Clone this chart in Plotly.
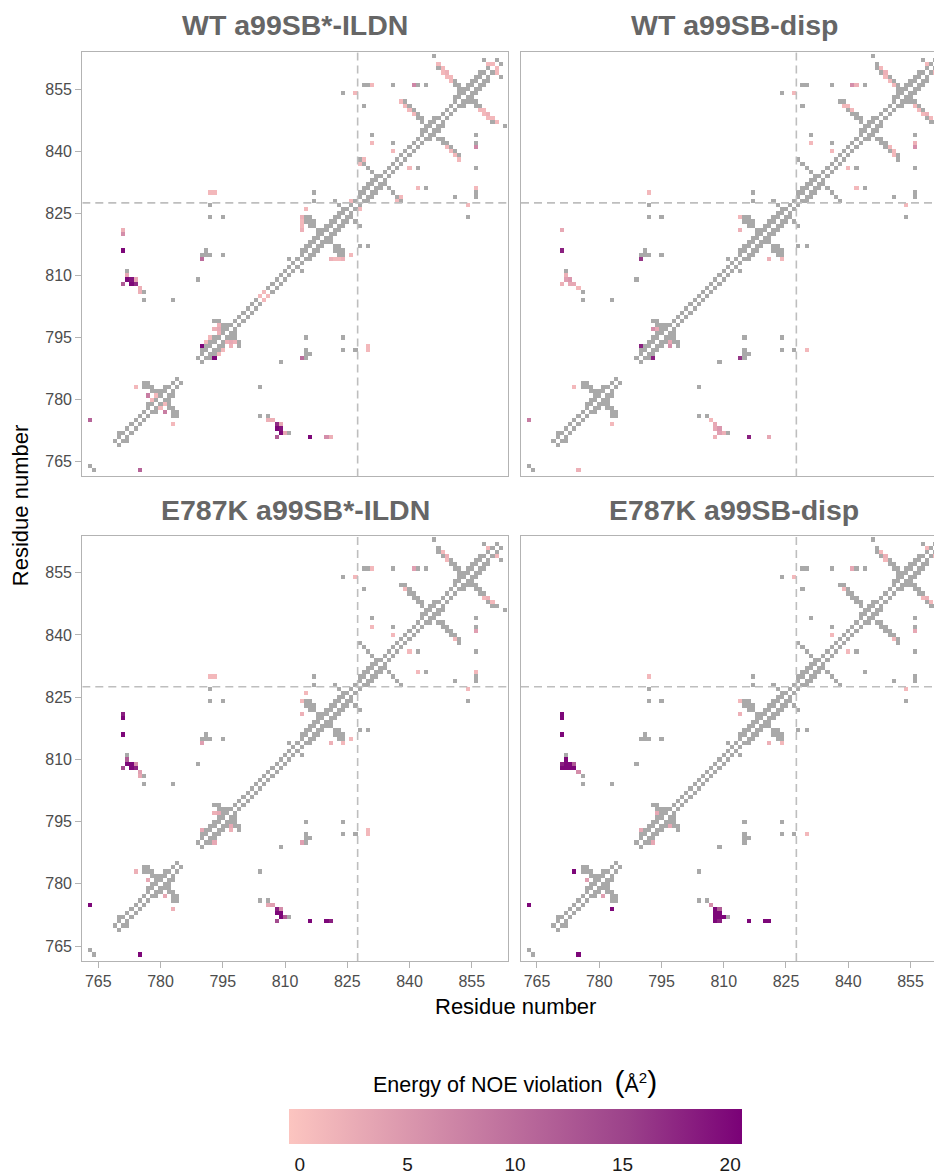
import numpy as np
import plotly.graph_objects as go

# ---------------- data ----------------
RES_MIN, RES_MAX = 760, 866
tick_vals = [765, 780, 795, 810, 825, 840, 855]
panel_titles = ["WT a99SB*-ILDN", "WT a99SB-disp", "E787K a99SB*-ILDN", "E787K a99SB-disp"]
domain_boundary = 827.5

# near-diagonal contact runs: pairs (i, i+offset) for i in [start, end]
run_offset = [1, 1, 1, 2, 2, 2, 2, 2, 2]
run_start = [763, 769, 789, 777, 790, 814, 828, 843, 851]
run_end = [763, 784, 861, 781, 796, 823, 832, 846, 857]

# anti-diagonal (hairpin-like) contact runs: pairs (a0-k, b0+k), k < n
hp_a0 = [779, 779, 795, 795, 818, 817, 824, 832, 844, 843, 853, 852, 859]
hp_b0 = [781, 782, 797, 798, 821, 823, 826, 834, 846, 848, 854, 856, 861]
hp_n = [4, 3, 3, 2, 4, 2, 3, 5, 7, 5, 7, 5, 2]

# isolated long-range contacts (a < b)
extra_a = [776, 776, 783, 776, 772, 789, 792, 795, 792, 790, 791, 792, 791, 795,
           817, 817, 824, 829, 829, 830, 836, 844, 831, 846, 811,
           847, 842, 836, 816, 815, 770]
extra_b = [783, 804, 804, 806, 811, 809, 824, 824, 827, 815, 815, 815, 816, 815,
           828, 830, 854, 851, 856, 856, 856, 856, 844, 863, 814,
           861, 856, 842, 822, 823, 772]

# NOE violation energies (A^2) per panel: (residue a, residue b, energy), drawn on both sides
viol_wt_ildn = [
    (763, 775, 11), (771, 816, 20), (771, 820, 6), (771, 821, 2),
    (771, 808, 12), (772, 809, 20), (773, 809, 19), (773, 808, 20), (774, 808, 17),
    (774, 809, 3), (772, 810, 3), (775, 806, 2), (775, 807, 2),
    (774, 783, 1), (777, 781, 8), (778, 780, 1), (779, 781, 1),
    (790, 793, 20), (793, 797, 2), (794, 796, 2), (794, 797, 3), (794, 798, 2),
    (791, 794, 1), (792, 795, 1), (790, 814, 10), (804, 805, 1), (805, 806, 1),
    (792, 830, 1), (793, 830, 1), (814, 821, 2), (814, 822, 1), (814, 823, 1),
    (814, 824, 2), (815, 826, 1), (827, 854, 1), (831, 856, 1), (841, 856, 7),
    (831, 842, 1), (847, 861, 1), (839, 851, 1), (838, 852, 1), (848, 860, 1),
    (849, 859, 2), (850, 858, 1), (848, 859, 1), (849, 858, 1), (850, 857, 1),
    (859, 861, 1), (860, 861, 1), (840, 850, 1), (841, 849, 1),
    (836, 840, 1), (826, 828, 1), (828, 837, 1), (829, 838, 1),
]
viol_wt_disp = [
    (763, 775, 8), (771, 816, 18), (771, 821, 3), (771, 808, 2),
    (772, 809, 4), (773, 809, 5), (773, 808, 3), (774, 808, 3), (772, 810, 2),
    (775, 807, 1), (774, 783, 1), (790, 793, 18), (793, 797, 6), (794, 797, 3),
    (790, 814, 16), (792, 830, 1), (814, 821, 2), (814, 824, 1),
    (827, 854, 1), (841, 856, 6), (842, 856, 2), (831, 842, 1),
    (839, 851, 1), (840, 851, 1), (841, 850, 1), (848, 860, 1), (849, 859, 2),
    (849, 858, 1), (850, 857, 1), (851, 856, 1), (859, 861, 1), (836, 840, 1),
]
viol_mut_ildn = [
    (763, 775, 20), (771, 816, 20), (771, 820, 20), (771, 821, 18),
    (771, 808, 14), (772, 809, 20), (773, 809, 20), (773, 808, 20), (774, 808, 18),
    (772, 810, 12), (774, 809, 6), (775, 807, 4), (775, 806, 3),
    (774, 783, 2), (777, 781, 3), (790, 793, 3), (794, 797, 3), (793, 797, 2),
    (790, 814, 4), (792, 830, 1), (793, 830, 1), (814, 821, 2), (814, 824, 1),
    (815, 826, 1), (827, 854, 1), (831, 856, 1), (841, 856, 4), (831, 842, 1),
    (839, 851, 1), (848, 860, 1), (849, 859, 2), (849, 858, 1), (859, 861, 1),
    (836, 840, 1),
]
viol_mut_disp = [
    (763, 775, 20), (771, 816, 20), (771, 820, 20), (771, 821, 20),
    (771, 808, 20), (771, 809, 18), (772, 808, 20), (772, 809, 20), (772, 810, 20),
    (773, 808, 20), (773, 809, 20), (774, 808, 20), (774, 809, 12), (775, 807, 6),
    (774, 783, 20), (777, 781, 4), (790, 793, 3), (794, 797, 3),
    (792, 830, 1), (814, 821, 2), (814, 824, 1), (827, 854, 1), (841, 856, 3),
    (839, 851, 1), (848, 860, 1), (849, 859, 2), (849, 858, 1), (859, 861, 1),
    (836, 840, 1),
]
panel_viol = [viol_wt_ildn, viol_wt_disp, viol_mut_ildn, viol_mut_disp]

# one-sided cells (x, y, energy) where the lower-right copy differs
panel_lower = [[], [(775, 763, 2)], [], []]

# ---------------- build cell matrices ----------------
residues = list(range(RES_MIN, RES_MAX + 1))
N = len(residues)

contacts = set()
for off, s, e in zip(run_offset, run_start, run_end):
    for i in range(s, e + 1):
        contacts.add((i, i + off))
for a0, b0, n in zip(hp_a0, hp_b0, hp_n):
    for k in range(n):
        contacts.add((a0 - k, b0 + k))
for a, b in zip(extra_a, extra_b):
    contacts.add((a, b))


def matrices(viol, lower):
    g = np.full((N, N), np.nan)
    c = np.full((N, N), np.nan)
    for a, b in contacts:
        for x, y in ((a, b), (b, a)):
            if RES_MIN <= x <= RES_MAX and RES_MIN <= y <= RES_MAX:
                g[y - RES_MIN, x - RES_MIN] = 1
    for a, b, v in viol:
        for x, y in ((a, b), (b, a)):
            g[y - RES_MIN, x - RES_MIN] = np.nan
            c[y - RES_MIN, x - RES_MIN] = v
    for x, y, v in lower:
        g[y - RES_MIN, x - RES_MIN] = np.nan
        c[y - RES_MIN, x - RES_MIN] = v
    return g, c


# ---------------- layout geometry ----------------
W, H = 934, 1176
xl = [82.3 / W, 508.3 / W]
xr = [521.0 / W, 1.0]
yt = [1 - 477.3 / H, 1 - 52.3 / H]
yb = [1 - 962.7 / H, 1 - 536.7 / H]
x_range_full = [761.15, 863.8]
x_range_cut = [761.15, 761.15 + (W - 521.0) / 4.150]
y_range = [761.4, 863.9]

GRAY = "#A9A9A9"
colorscale = [[0.0, "#FCC5C0"], [0.25, "#DC99AE"], [0.5, "#BC6D9C"],
              [0.75, "#9B418A"], [1.0, "#7A0177"]]

fig = go.Figure()
panels = [("x", "y", xl, yt, x_range_full), ("x2", "y2", xr, yt, x_range_cut),
          ("x3", "y3", xl, yb, x_range_full), ("x4", "y4", xr, yb, x_range_cut)]

for p, (xa, ya, xd, yd, xrg) in enumerate(panels):
    g, c = matrices(panel_viol[p], panel_lower[p])
    fig.add_trace(go.Heatmap(x=residues, y=residues, z=g, xaxis=xa, yaxis=ya,
                             colorscale=[[0, GRAY], [1, GRAY]], showscale=False,
                             hoverinfo="skip", zmin=0, zmax=2))
    fig.add_trace(go.Heatmap(x=residues, y=residues, z=c, xaxis=xa, yaxis=ya,
                             coloraxis="coloraxis", hoverinfo="skip"))

axis_common = dict(showgrid=False, zeroline=False, showline=True, linecolor="#B3B3B3",
                   linewidth=1.3, tickvals=tick_vals, ticklen=6, tickcolor="#B3B3B3",
                   tickwidth=1.2, tickfont=dict(family="Liberation Sans", size=16, color="#4D4D4D"))

lay = {}
for p, (xa, ya, xd, yd, xrg) in enumerate(panels):
    xname = "xaxis" + ("" if p == 0 else str(p + 1))
    yname = "yaxis" + ("" if p == 0 else str(p + 1))
    bottom = p >= 2
    left = p % 2 == 0
    lay[xname] = dict(axis_common, domain=xd, range=xrg, anchor=ya, mirror=True,
                      ticks="outside" if bottom else "", showticklabels=bottom)
    lay[yname] = dict(axis_common, domain=yd, range=y_range, anchor=xa, mirror=left,
                      ticks="outside" if left else "", showticklabels=left)
fig.update_layout(**lay)

shapes = []
for p, (xa, ya, xd, yd, xrg) in enumerate(panels):
    line = dict(color="#BEBEBE", width=1.6, dash="8px,5px")
    shapes.append(dict(type="line", xref=xa, yref=ya, x0=domain_boundary, x1=domain_boundary,
                       y0=y_range[0], y1=y_range[1], line=line, layer="above"))
    shapes.append(dict(type="line", xref=xa, yref=ya, x0=xrg[0], x1=xrg[1],
                       y0=domain_boundary, y1=domain_boundary, line=line, layer="above"))

annotations = []
title_font = dict(family="Liberation Sans", size=28.5, color="#666666")
centers_x = [(82.3 + 508.3) / 2, (521 + 947) / 2, (82.3 + 508.3) / 2, (521 + 947) / 2]
centers_y = [25, 25, 511, 511]
for p in range(4):
    annotations.append(dict(text="<b>%s</b>" % panel_titles[p], x=centers_x[p] / W,
                            y=1 - centers_y[p] / H, xref="paper", yref="paper",
                            showarrow=False, font=title_font, xanchor="center", yanchor="middle"))
annotations.append(dict(text="Residue number", x=515 / W, y=1 - 1008 / H, xref="paper", yref="paper",
                        showarrow=False, font=dict(family="Liberation Sans", size=22, color="#000000"),
                        xanchor="center", yanchor="middle"))
annotations.append(dict(text="Residue number", x=20 / W, y=1 - 507 / H, xref="paper", yref="paper",
                        showarrow=False, textangle=-90,
                        font=dict(family="Liberation Sans", size=22, color="#000000"),
                        xanchor="center", yanchor="middle"))
annotations.append(dict(text="Energy of NOE violation  <span style='font-size:30px'>(</span>Å<sup>2</sup>"
                             "<span style='font-size:30px'>)</span>",
                        x=515 / W, y=1 - 1083 / H,
                        xref="paper", yref="paper", showarrow=False,
                        font=dict(family="Liberation Sans", size=21.5, color="#000000"),
                        xanchor="center", yanchor="middle"))

fig.update_layout(
    width=W, height=H, margin=dict(l=0, r=0, t=0, b=0),
    plot_bgcolor="white", paper_bgcolor="white",
    shapes=shapes, annotations=annotations,
    coloraxis=dict(cmin=-0.526, cmax=20.526, colorscale=colorscale,
                   colorbar=dict(orientation="h", x=515 / W, xanchor="center",
                                 y=1 - 1110.7 / H, yanchor="top", len=453, lenmode="pixels",
                                 thickness=35, thicknessmode="pixels", outlinewidth=0,
                                 xpad=0, ypad=0, tickvals=[0, 5, 10, 15, 20],
                                 ticks="outside", ticklen=5, tickcolor="white", tickwidth=1,
                                 tickfont=dict(family="Liberation Sans", size=19, color="#1A1A1A"))),
    showlegend=False,
)

fig.write_html("out.html", config={"displayModeBar": False},
               post_script="document.body.style.margin='0';document.body.style.padding='0';"
                           "document.body.style.overflow='hidden';"
                           "document.documentElement.style.overflow='hidden';")
